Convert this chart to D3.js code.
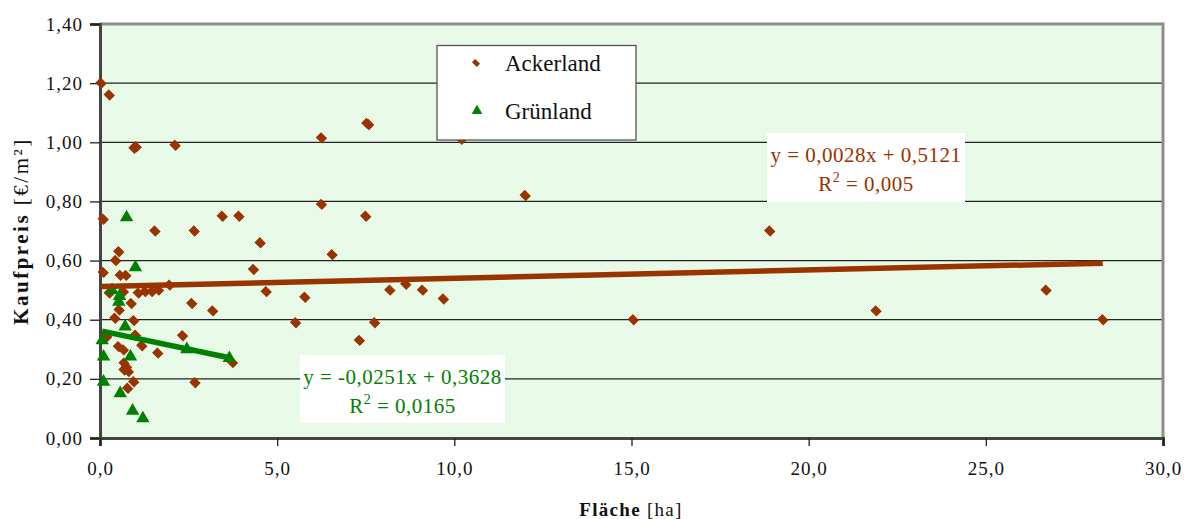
<!DOCTYPE html>
<html>
<head>
<meta charset="utf-8">
<script src="https://cdn.jsdelivr.net/npm/d3@7"></script>
<style>
  body { margin: 0; background: #fff; }
  svg { font-family: "Liberation Serif", "Times New Roman", serif; }
</style>
</head>
<body>
<svg id="chart" width="1188" height="519"></svg>
<script>
// Fläche [ha], Kaufpreis [€/m²]
var ackerland = [
  [0.03,1.20],[0.26,1.16],[0.96,0.98],[1.02,0.985],[2.12,0.99],[6.25,1.015],[7.53,1.064],[7.58,1.06],
  [10.2,1.01],[12.0,0.82],[6.25,0.79],[7.5,0.75],[0.09,0.74],[3.45,0.75],[3.92,0.75],[4.52,0.66],
  [1.55,0.70],[2.66,0.70],[4.33,0.57],[6.55,0.62],[0.53,0.63],[0.44,0.60],[0.09,0.56],[0.57,0.55],
  [0.73,0.55],[1.96,0.517],[0.26,0.49],[0.66,0.495],[1.08,0.49],[1.27,0.495],[1.46,0.495],[1.65,0.50],
  [4.69,0.495],[0.54,0.433],[0.88,0.455],[2.59,0.455],[3.18,0.43],[0.42,0.405],[0.95,0.397],
  [0.19,0.343],[1.0,0.348],[2.33,0.346],[0.52,0.309],[0.66,0.298],[1.18,0.312],[1.63,0.287],
  [0.68,0.253],[0.75,0.24],[0.68,0.23],[0.8,0.225],[3.74,0.255],[0.95,0.19],[2.68,0.187],[0.78,0.168],
  [5.78,0.476],[5.52,0.39],[7.32,0.33],[7.75,0.39],[8.18,0.50],[8.63,0.52],[9.1,0.50],[9.69,0.47],
  [15.05,0.40],[18.9,0.70],[21.9,0.43],[26.7,0.50],[28.3,0.40]
];
var gruenland = [
  [0.75,0.746],[1.0,0.577],[0.34,0.50],[0.53,0.46],[0.55,0.48],[0.71,0.377],[0.06,0.33],[0.1,0.275],
  [0.86,0.275],[2.45,0.30],[3.65,0.27],[0.1,0.19],[0.57,0.151],[0.92,0.092],[1.21,0.066]
];
var xTicks = [0, 5, 10, 15, 20, 25, 30];
var yTicks = [0, 0.2, 0.4, 0.6, 0.8, 1.0, 1.2, 1.4];
var ackerFit = { slope: 0.0028, intercept: 0.5121, eq: "y = 0,0028x + 0,5121", r2: "0,005" };
var gruenFit = { slope: -0.0251, intercept: 0.3628, eq: "y = -0,0251x + 0,3628", r2: "0,0165" };

(function () {
  var brown = "#993300", green = "#008000";
  var de = d3.formatLocale({ decimal: ",", thousands: ".", grouping: [3], currency: ["", " €"] });

  var svg = d3.select("#chart");
  var pLeft = 100, pTop = 24, pRight = 1163, pBottom = 438;

  var x = d3.scaleLinear().domain([0, 30]).range([pLeft, pRight]);
  var y = d3.scaleLinear().domain([0, 1.4]).range([pBottom, pTop]);

  // dotted light green background
  var defs = svg.append("defs");
  var pat = defs.append("pattern").attr("id", "dots")
    .attr("width", 2).attr("height", 2).attr("patternUnits", "userSpaceOnUse");
  pat.append("rect").attr("width", 2).attr("height", 2).attr("fill", "#f4fdf4");
  pat.append("rect").attr("width", 1).attr("height", 1).attr("fill", "#dcf7dc");
  pat.append("rect").attr("x", 1).attr("y", 1).attr("width", 1).attr("height", 1).attr("fill", "#dcf7dc");

  svg.append("rect").attr("x", pLeft).attr("y", pTop)
    .attr("width", pRight - pLeft).attr("height", pBottom - pTop)
    .attr("fill", "url(#dots)");

  // grid
  svg.append("g").selectAll("line").data(yTicks.slice(1, -1)).enter().append("line")
    .attr("x1", pLeft).attr("x2", pRight)
    .attr("y1", function (d) { return y(d); }).attr("y2", function (d) { return y(d); })
    .attr("stroke", "#222").attr("stroke-width", 1.3);

  // plot frame (gray top/right)
  svg.append("path")
    .attr("d", "M" + pLeft + "," + pTop + "H" + pRight + "V" + pBottom)
    .attr("fill", "none").attr("stroke", "#8c8c8c").attr("stroke-width", 3);

  // axes
  var yAxis = svg.append("g").attr("transform", "translate(" + pLeft + ",0)")
    .call(d3.axisLeft(y).tickValues(yTicks).tickSize(10).tickPadding(7).tickFormat(de.format(".2f")));
  var xAxis = svg.append("g").attr("transform", "translate(0," + pBottom + ")")
    .call(d3.axisBottom(x).tickValues(xTicks).tickSize(8).tickPadding(16).tickFormat(de.format(".1f")));
  [yAxis, xAxis].forEach(function (a) {
    a.select(".domain").attr("stroke", "#444").attr("stroke-width", 3);
    a.selectAll(".tick line").attr("stroke", "#222").attr("stroke-width", 1.3);
    a.selectAll("text").attr("fill", "#111").style("font-size", "19px")
      .style("font-family", "Liberation Serif").style("letter-spacing", "1px");
  });

  // points
  var diamond = d3.symbol().type(d3.symbolSquare).size(62);
  var tri = d3.symbol().type(d3.symbolTriangle).size(78);

  svg.append("g").selectAll("path").data(ackerland).enter().append("path")
    .attr("d", diamond)
    .attr("transform", function (d) { return "translate(" + x(d[0]) + "," + y(d[1]) + ") rotate(45) scale(1.1,0.95)"; })
    .attr("fill", brown);

  svg.append("g").selectAll("path").data(gruenland).enter().append("path")
    .attr("d", tri)
    .attr("transform", function (d) { return "translate(" + x(d[0]) + "," + y(d[1]) + ")"; })
    .attr("fill", green);

  // trend lines
  function trend(data, fit, color) {
    var ext = d3.extent(data, function (d) { return d[0]; });
    svg.append("line")
      .attr("x1", x(ext[0])).attr("y1", y(fit.intercept + fit.slope * ext[0]))
      .attr("x2", x(ext[1])).attr("y2", y(fit.intercept + fit.slope * ext[1]))
      .attr("stroke", color).attr("stroke-width", 5.5);
  }
  trend(ackerland, ackerFit, brown);
  trend(gruenland, gruenFit, green);

  // equation labels
  function eqBox(fit, color, bx, by, bw, bh) {
    var g = svg.append("g");
    g.append("rect").attr("x", bx).attr("y", by).attr("width", bw).attr("height", bh).attr("fill", "#fff");
    var cx = bx + bw / 2;
    g.append("text").attr("x", cx).attr("y", by + 29).attr("text-anchor", "middle")
      .attr("fill", color).style("font-size", "21px").style("letter-spacing", "0.5px").text(fit.eq);
    var t = g.append("text").attr("x", cx).attr("y", by + 58).attr("text-anchor", "middle")
      .attr("fill", color).style("font-size", "21px").style("letter-spacing", "0.5px");
    t.append("tspan").text("R");
    t.append("tspan").attr("dy", -9).style("font-size", "14px").text("2");
    t.append("tspan").attr("dy", 9).text(" = " + fit.r2);
  }
  eqBox(ackerFit, brown, 767, 133, 198, 69);
  eqBox(gruenFit, green, 300, 355, 205, 68);

  // legend
  var lg = svg.append("g");
  lg.append("rect").attr("x", 437).attr("y", 45.5).attr("width", 199).attr("height", 94.5)
    .attr("fill", "#fff").attr("stroke", "#555").attr("stroke-width", 1.3);
  lg.append("path").attr("d", d3.symbol().type(d3.symbolSquare).size(30))
    .attr("transform", "translate(476,63) rotate(45) scale(1.25,0.85)").attr("fill", brown);
  lg.append("path").attr("d", d3.symbol().type(d3.symbolTriangle).size(50))
    .attr("transform", "translate(477,111)").attr("fill", green);
  lg.append("text").attr("x", 505).attr("y", 71).style("font-size", "23px").attr("fill", "#111").text("Ackerland");
  lg.append("text").attr("x", 505).attr("y", 119).style("font-size", "23px").attr("fill", "#111").text("Grünland");

  // axis titles
  var xt = svg.append("text").attr("x", 631).attr("y", 516).attr("text-anchor", "middle")
    .attr("fill", "#111").style("font-size", "19px").style("letter-spacing", "1.3px");
  xt.append("tspan").style("font-weight", "bold").text("Fläche");
  xt.append("tspan").text(" [ha]");

  var yt = svg.append("text").attr("transform", "translate(28,231) rotate(-90)").attr("text-anchor", "middle")
    .attr("fill", "#111").style("font-size", "21px").style("letter-spacing", "2.5px");
  yt.append("tspan").style("font-weight", "bold").text("Kaufpreis");
  yt.append("tspan").text(" [€/m²]");
})();
</script>
</body>
</html>
